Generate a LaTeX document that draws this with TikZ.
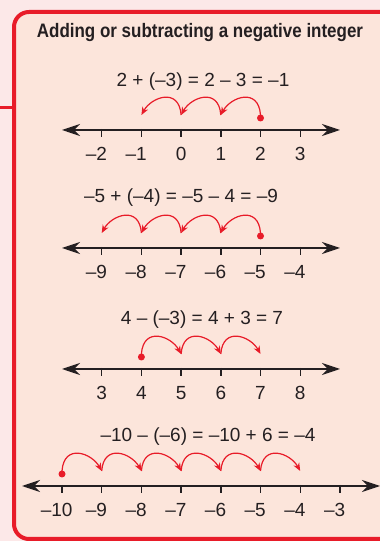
\documentclass[tikz,border=0pt]{standalone}
\usepackage{fontspec}
\setmainfont{Liberation Sans}
\newfontfamily\titlefont[FakeStretch=0.87]{Liberation Sans}
\usetikzlibrary{arrows.meta,calc}
\definecolor{pagepink}{rgb}{0.99,0.91,0.91}
\definecolor{boxpeach}{rgb}{0.99,0.90,0.86}
\definecolor{signred}{rgb}{0.91,0.11,0.16}
\definecolor{inkblack}{rgb}{0.14,0.12,0.13}
\tikzset{
  frame/.style={
    draw=signred,
    line width=4pt,
    fill=boxpeach,
    rounded corners=15pt
  },
  tab/.style={
    signred,
    line width=3pt
  },
  titl/.style={
    font=\titlefont\bfseries\fontsize{19.5}{21}\selectfont,
    text=inkblack,
    inner sep=0pt
  },
  eqn/.style={
    font=\fontsize{19}{21}\selectfont,
    text=inkblack,
    inner sep=0pt
  },
  lbl/.style={
    font=\fontsize{19}{21}\selectfont,
    text=inkblack,
    inner sep=0pt
  },
  axis/.style={
    {Stealth[length=18pt,width=12pt,inset=6pt]}-{Stealth[length=18pt,width=12pt,inset=6pt]},
    line width=1.4pt,
    inkblack
  },
  tick/.style={
    line width=1.4pt,
    inkblack
  },
  dot/.style={
    circle,
    fill=signred,
    inner sep=0pt,
    minimum size=7pt
  },
  hopleft/.style={
    -{Stealth[length=8pt,width=6.5pt]},
    line width=1.2pt,
    signred,
    to path={.. controls +(-2,28) and +(10,18) .. (\tikztotarget)}
  },
  hopright/.style={
    -{Stealth[length=8pt,width=6.5pt]},
    line width=1.2pt,
    signred,
    to path={.. controls +(2,28) and +(-10,18) .. (\tikztotarget)}
  }
}

\begin{document}
\begin{tikzpicture}[x=1pt,y=1pt]
\useasboundingbox (0,0) rectangle (380,541);
\clip (0,0) rectangle (380,541);
\fill[pagepink] (0,0) rectangle (380,541);
\draw[tab] (0,433) -- (14,433);
\draw[frame] (14,2) rectangle (430,529);

\node[titl] (title) at (200,508) {Adding or subtracting a negative integer};

% 2 + (-3)
\node[eqn] (eqa) at (203,459) {2 + (–3) = 2 – 3 = –1};
\coordinate (aw) at (62,411);
\coordinate (ae) at (340,411);
\draw[axis] (aw) -- (ae);
\foreach \i/\n in {1/\llap{–}2,2/\llap{–}1,3/0,4/1,5/2,6/3} {
  \coordinate (a\i) at (62+39.7*\i,411);
  \coordinate (ah\i) at (62+39.7*\i,426);
  \draw[tick] (a\i) ++(0,1) -- ++(0,-8);
  \node[lbl] (la\i) at ($(a\i)+(0,-24)$) {\n};
}
\node[dot] (da) at ($(a5)+(0,12)$) {};
\draw[hopleft] (ah5) to (ah4);
\draw[hopleft] (ah4) to (ah3);
\draw[hopleft] (ah3) to (ah2);

% -5 + (-4)
\node[eqn] (eqb) at (181,343) {–5 + (–4) = –5 – 4 = –9};
\coordinate (bw) at (62,293);
\coordinate (be) at (340,293);
\draw[axis] (bw) -- (be);
\foreach \i/\n in {1/\llap{–}9,2/\llap{–}8,3/\llap{–}7,4/\llap{–}6,5/\llap{–}5,6/\llap{–}4} {
  \coordinate (b\i) at (62+39.7*\i,293);
  \coordinate (bh\i) at (62+39.7*\i,308);
  \draw[tick] (b\i) ++(0,1) -- ++(0,-8);
  \node[lbl] (lb\i) at ($(b\i)+(0,-24)$) {\n};
}
\node[dot] (db) at ($(b5)+(0,12)$) {};
\draw[hopleft] (bh5) to (bh4);
\draw[hopleft] (bh4) to (bh3);
\draw[hopleft] (bh3) to (bh2);
\draw[hopleft] (bh2) to (bh1);

% 4 - (-3)
\node[eqn] (eqc) at (202,221) {4 – (–3) = 4 + 3 = 7};
\coordinate (cw) at (62,172);
\coordinate (ce) at (340,172);
\draw[axis] (cw) -- (ce);
\foreach \i/\n in {1/3,2/4,3/5,4/6,5/7,6/8} {
  \coordinate (c\i) at (62+39.7*\i,172);
  \coordinate (ch\i) at (62+39.7*\i,187);
  \draw[tick] (c\i) ++(0,1) -- ++(0,-8);
  \node[lbl] (lc\i) at ($(c\i)+(0,-24)$) {\n};
}
\node[dot] (dc) at ($(c2)+(0,12)$) {};
\draw[hopright] (ch2) to (ch3);
\draw[hopright] (ch3) to (ch4);
\draw[hopright] (ch4) to (ch5);

% -10 - (-6)
\node[eqn] (eqd) at (208,104) {–10 – (–6) = –10 + 6 = –4};
\coordinate (dw) at (22,55);
\coordinate (de) at (380,55);
\draw[axis] (dw) -- (de);
\foreach \i/\n in {0/\llap{–}10,1/\llap{–}9,2/\llap{–}8,3/\llap{–}7,4/\llap{–}6,5/\llap{–}5,6/\llap{–}4,7/\llap{–}3} {
  \coordinate (d\i) at (62+39.7*\i,55);
  \coordinate (dh\i) at (62+39.7*\i,70);
  \draw[tick] (d\i) ++(0,1) -- ++(0,-8);
  \node[lbl] (ld\i) at ($(d\i)+(0,-24)$) {\n};
}
\node[dot] (dd) at ($(d0)+(0,12)$) {};
\draw[hopright] (dh0) to (dh1);
\draw[hopright] (dh1) to (dh2);
\draw[hopright] (dh2) to (dh3);
\draw[hopright] (dh3) to (dh4);
\draw[hopright] (dh4) to (dh5);
\draw[hopright] (dh5) to (dh6);
\end{tikzpicture}
\end{document}
